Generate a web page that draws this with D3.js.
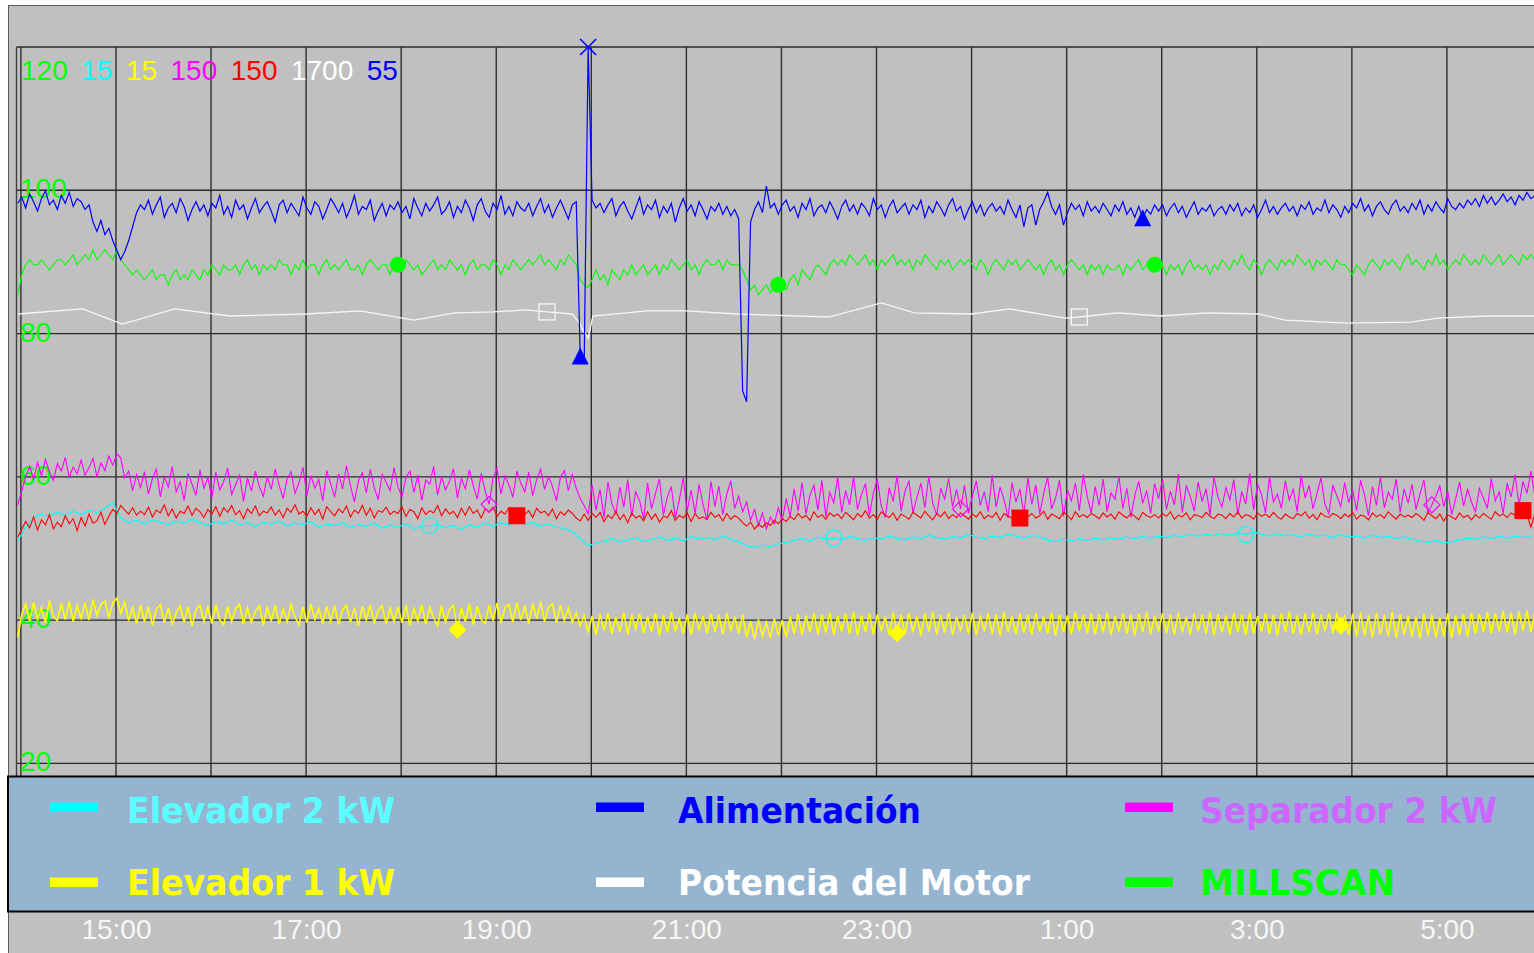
<!DOCTYPE html>
<html><head><meta charset="utf-8">
<script src="https://cdn.jsdelivr.net/npm/d3@7"></script>
<style>
html,body{margin:0;padding:0;background:#fff;overflow:hidden;}
svg{display:block;}
</style></head><body>
<svg id="chart" width="1534" height="953"></svg>
<script>
// ---------------- DATA ----------------
const sampleStart = "13:58";
const fineStepMin = 2.5;    // Alimentación, MILLSCAN, Separador, serie roja, Elevador 1
const coarseStepMin = 5;    // Elevador 2

const seriesNames = ["MILLSCAN", "Elevador 2 kW", "Elevador 1 kW", "Separador 2 kW", "Serie 5", "Potencia del Motor", "Alimentación"];
const seriesMax   = [120, 15, 15, 150, 150, 1700, 55];
const yTickLabels = [100, 80, 60, 40, 20];
const xTickLabels = ["15:00", "17:00", "19:00", "21:00", "23:00", "1:00", "3:00", "5:00"];

const alimentacion = [
45.0,45.4,44.7,45.6,45.1,44.5,45.3,45.8,44.9,45.2,44.6,45.5,45.0,45.7,44.8,45.3,
45.1,44.6,44.9,43.8,43.2,43.9,43.0,43.4,42.6,42.0,41.4,41.9,42.6,43.5,44.4,44.9,
44.6,45.2,44.3,44.9,45.4,44.1,44.7,45.0,44.4,45.3,44.8,43.9,44.6,45.1,44.5,44.9,
44.2,45.0,44.7,45.5,44.3,44.8,44.1,45.2,44.6,44.9,44.0,44.7,45.3,44.4,44.8,45.1,
44.5,43.8,44.9,45.2,44.4,45.0,44.6,44.2,45.4,44.7,44.3,45.1,44.8,44.0,44.6,45.3,
44.9,44.4,45.0,44.1,44.7,45.5,44.3,44.8,44.6,45.2,43.9,44.5,45.0,44.2,44.9,44.6,
45.1,44.4,44.8,44.0,45.3,44.7,44.2,45.0,44.5,44.9,45.4,44.3,44.6,45.1,44.1,44.8,
44.4,45.2,44.7,43.9,44.9,45.3,44.5,44.1,45.0,44.6,45.5,44.3,44.8,44.2,45.1,44.7,
44.5,45.0,44.2,44.8,45.3,44.4,44.9,44.1,44.7,45.2,44.6,44.0,44.9,45.1,35.2,34.8,
55.0,45.2,44.7,45.0,44.4,44.9,45.3,44.2,44.8,45.1,44.5,44.0,44.7,45.4,44.3,44.9,
44.6,45.2,44.1,44.8,44.4,45.0,43.8,44.7,45.3,44.5,44.9,44.2,45.1,44.6,44.0,44.8,
44.5,45.0,44.3,44.8,44.2,44.6,44.0,33.0,32.3,43.8,44.6,45.1,44.4,46.1,44.7,45.0,
44.3,44.9,45.2,44.5,44.8,44.1,45.0,44.6,45.3,44.2,44.7,44.9,44.4,45.1,44.6,44.0,
44.8,45.2,44.5,44.9,44.3,45.0,44.7,44.2,45.3,44.6,44.9,44.1,44.8,45.2,44.4,44.7,
45.0,44.3,44.9,44.6,45.2,44.1,44.8,44.4,45.1,44.7,44.2,44.9,45.3,44.5,44.8,44.0,
44.6,45.1,44.4,44.9,44.2,44.7,45.0,44.5,44.8,44.3,45.2,44.6,44.1,44.9,43.5,44.7,
44.9,43.6,44.6,45.1,45.7,44.8,44.3,44.9,43.6,44.4,45.0,44.6,44.9,44.2,45.1,44.5,
44.8,44.4,45.0,44.6,44.2,44.9,44.5,45.1,44.3,44.7,44.1,44.8,44.05,44.6,44.3,44.9,
44.5,44.9,44.2,44.7,45.0,44.4,44.8,44.1,44.6,45.1,44.3,44.7,44.5,44.9,44.2,44.6,
44.8,44.3,44.9,44.5,45.0,44.2,44.7,44.4,44.9,44.1,44.6,45.2,44.4,44.8,44.3,44.7,
45.0,44.5,44.8,44.2,44.9,44.6,45.1,44.3,44.7,44.5,45.2,44.4,44.9,44.6,44.1,44.8,
44.4,45.0,44.7,45.3,44.5,44.9,44.2,44.8,45.1,44.6,44.3,44.9,45.2,44.5,44.8,44.4,
45.0,44.6,45.2,44.3,44.9,44.5,45.1,44.7,44.4,45.3,44.8,44.6,45.0,44.7,45.2,44.9,
45.3,44.8,45.5,45.0,45.4,44.9,45.2,45.6,45.1,45.4,44.9,45.5,45.2,45.7,45.3,45.5
];

const millscan = [
85.4,88.2,89.6,90.3,89.6,89.6,90.3,89.6,88.9,89.6,90.3,90.3,89.6,90.3,91.0,89.6,
90.3,91.0,90.3,91.7,90.3,91.0,91.7,91.0,90.3,91.7,90.3,89.6,88.9,88.2,88.9,88.2,
87.5,88.2,88.9,87.5,88.2,88.2,86.8,88.2,88.9,87.5,88.2,87.5,88.9,88.2,87.5,88.9,
88.2,89.6,88.9,88.2,89.6,88.9,88.9,89.6,88.2,89.6,90.3,88.9,89.6,88.2,89.6,88.9,
89.6,88.9,90.3,89.6,89.6,88.2,89.6,88.9,90.3,88.9,89.6,89.6,88.2,89.6,90.3,88.9,
89.6,88.9,89.6,90.3,88.9,88.9,89.6,88.2,89.6,90.3,89.6,88.9,89.6,89.6,88.2,89.6,
89.6,88.9,90.3,89.6,88.9,89.6,88.2,88.9,89.6,90.3,88.9,89.6,88.9,90.3,89.6,88.9,
89.6,88.2,89.6,90.3,88.9,89.6,89.6,88.9,90.3,89.6,88.2,89.6,88.9,90.3,89.6,88.9,
89.6,90.3,89.6,90.3,91.0,89.6,90.3,89.6,88.9,90.3,89.6,91.0,90.3,89.6,87.5,86.8,
86.4,87.5,88.9,87.5,88.2,86.8,88.9,88.2,87.5,88.9,88.2,89.6,88.2,88.9,89.6,88.2,
88.9,89.6,88.2,89.6,88.9,90.3,89.6,88.9,89.6,90.3,88.9,89.6,88.2,89.6,90.3,89.6,
89.6,90.3,88.9,90.3,89.6,89.6,89.6,88.9,87.5,86.1,86.8,85.4,86.1,86.8,85.7,86.4,
86.8,87.5,86.1,87.5,88.2,86.8,88.9,88.2,87.5,88.9,89.6,88.9,88.2,89.6,90.3,89.6,
90.3,89.6,91.0,90.3,89.6,90.3,91.0,89.6,90.3,88.9,90.3,89.6,90.3,91.0,89.6,90.3,
89.6,90.3,88.9,90.3,89.6,91.0,90.3,89.6,88.9,90.3,89.6,90.3,88.9,89.6,90.3,89.6,
90.3,89.6,88.9,90.3,89.6,88.2,89.6,90.3,89.6,88.9,90.3,89.6,90.3,88.9,89.6,90.3,
89.6,88.9,89.6,88.2,89.6,90.3,88.9,89.6,88.2,89.6,90.3,89.6,88.9,89.6,88.2,89.6,
88.9,89.6,88.2,89.6,88.9,88.9,89.6,88.2,89.6,88.9,89.6,90.3,88.9,89.6,90.3,89.6,
88.9,89.6,88.2,89.6,88.9,89.6,88.2,89.6,90.3,88.9,89.6,88.9,89.6,88.2,89.6,88.9,
90.3,89.6,88.9,90.3,89.6,91.0,89.6,88.9,90.3,89.6,88.2,89.6,90.3,89.6,88.9,90.3,
89.6,90.3,89.6,91.0,90.3,89.6,90.3,88.9,90.3,89.6,90.3,89.6,88.9,90.3,89.6,89.6,
88.9,88.2,89.6,88.9,88.2,89.6,90.3,89.6,88.9,90.3,89.6,90.3,89.6,88.9,90.3,91.0,
89.6,90.3,89.6,88.9,90.3,89.6,91.0,89.6,90.3,88.9,89.6,90.3,89.6,91.0,90.3,89.6,
90.3,89.6,91.0,90.3,89.6,90.3,91.0,89.6,90.3,91.0,90.3,89.6,91.0,90.3,91.0,90.3
];

const separador2 = [
70.1,72.5,75.0,76.8,74.6,77.5,75.2,78.1,75.9,74.4,77.3,76.0,78.4,74.9,76.7,75.5,
77.9,75.3,76.6,78.2,75.0,77.4,76.1,78.6,77.0,79.0,78.3,74.8,76.0,72.6,75.4,73.1,
75.9,72.0,74.7,76.3,71.5,75.0,73.2,76.8,72.4,74.1,70.9,75.6,73.7,71.8,76.2,73.0,
74.9,71.3,75.8,72.7,74.2,76.5,71.9,73.6,75.3,70.7,74.8,72.5,76.0,73.3,71.6,75.1,
72.8,76.4,73.5,71.2,74.6,75.9,72.1,74.0,76.7,71.7,75.2,73.0,74.5,70.8,76.1,73.8,
71.4,75.5,72.9,76.9,73.4,70.6,74.3,75.7,72.2,76.3,73.1,71.0,75.4,74.1,72.6,76.6,
73.2,71.5,74.9,76.0,72.3,75.3,70.9,74.4,73.7,76.8,71.8,75.0,72.7,74.2,76.4,71.3,
74.7,72.9,76.2,73.4,71.1,75.6,72.5,70.2,74.8,76.5,72.0,75.1,73.6,71.4,76.0,73.9,
72.4,75.8,71.7,74.5,76.3,72.8,75.0,73.3,70.8,74.9,76.1,72.6,75.4,73.0,71.2,70.0,
68.5,73.6,69.2,72.8,67.9,74.1,70.3,68.6,73.2,69.7,74.5,68.1,72.4,70.8,67.6,73.9,
69.4,72.1,74.6,68.3,71.5,73.3,67.8,70.9,74.8,69.0,72.7,68.6,73.7,70.2,67.5,74.2,
69.8,73.4,68.4,72.0,74.3,69.5,71.6,68.9,70.6,67.4,69.3,66.5,68.7,65.9,68.0,66.8,
69.6,67.3,71.2,68.1,72.9,69.0,74.0,68.5,71.8,73.5,69.2,74.4,68.0,72.3,70.5,74.9,
68.8,72.6,70.1,75.0,69.3,71.9,73.8,68.2,72.2,74.6,69.9,67.9,73.1,70.7,75.2,69.0,
72.5,74.2,68.7,71.4,73.9,69.6,75.1,70.4,68.3,73.0,71.1,74.7,69.8,72.8,69.4,73.5,
68.6,71.7,74.3,70.0,72.4,68.9,75.3,69.7,73.2,71.0,67.8,74.0,70.6,72.9,68.4,74.8,
70.2,73.6,68.5,72.1,75.0,69.4,71.3,74.4,68.1,72.7,70.8,73.9,69.1,75.4,71.5,68.7,
73.3,70.0,74.6,68.9,72.2,71.1,75.1,69.5,73.0,67.9,71.8,74.2,70.4,72.6,68.6,73.8,
71.2,74.7,69.3,72.5,70.1,75.5,68.8,73.4,71.6,69.0,74.1,70.7,72.9,68.3,75.0,71.4,
69.7,73.1,71.0,74.5,68.4,72.4,70.3,75.6,69.2,73.7,71.9,68.7,74.9,70.6,72.0,69.5,
74.3,70.9,72.8,68.9,75.2,71.3,73.5,69.4,72.1,74.8,70.2,68.6,73.6,71.7,69.8,74.0,
70.5,72.7,69.1,74.4,71.8,68.2,73.3,70.0,75.0,69.6,72.3,71.1,74.6,68.8,72.9,70.4,
73.7,69.3,72.0,74.5,68.7,70.1,71.6,73.4,69.8,72.5,68.4,71.2,74.1,69.9,72.8,70.6,
68.9,73.0,71.3,69.5,74.7,70.8,72.4,68.6,73.9,71.5,75.4,70.0,74.2,72.1,76.0,71.6
];

const serieRoja = [
64.5,65.8,67.2,66.1,68.0,65.7,67.5,66.6,68.4,65.9,67.1,66.3,68.2,66.8,67.7,65.6,
67.9,66.4,68.5,66.9,67.3,68.8,66.7,68.1,69.3,68.6,70.0,69.2,68.5,69.6,68.3,69.0,
68.4,69.7,68.0,69.2,68.7,70.1,68.2,69.4,67.8,69.0,68.6,69.9,68.3,69.5,68.9,67.9,
69.3,68.5,69.8,68.1,69.6,68.8,70.0,68.4,69.1,67.7,69.4,68.6,69.9,68.2,69.0,68.7,
69.7,68.3,69.2,67.9,69.5,68.8,70.1,68.5,69.0,68.1,69.6,68.4,69.3,67.6,69.8,68.9,
68.2,69.4,68.7,69.9,68.0,69.2,68.6,70.0,68.3,69.5,67.8,69.1,68.8,69.7,68.4,69.0,
68.6,69.8,68.1,69.3,68.9,67.7,69.6,68.4,69.1,68.7,70.0,68.2,69.4,68.5,69.0,67.9,
69.5,68.3,69.8,68.6,69.2,67.8,69.4,68.9,69.7,68.1,69.0,68.5,69.6,68.0,68.2,69.3,
68.4,69.1,67.9,69.5,68.7,69.0,68.2,69.4,67.7,68.9,68.3,69.2,68.6,67.8,67.3,68.5,
67.4,68.6,67.9,68.8,67.2,68.3,67.7,69.0,67.5,68.4,67.0,68.7,67.8,68.2,67.3,68.9,
67.6,68.5,67.1,68.1,67.9,69.1,67.4,68.3,67.8,68.7,67.2,68.6,67.7,68.0,67.5,68.8,
67.9,68.4,67.3,68.6,67.6,68.2,67.8,67.0,66.4,67.1,65.9,66.7,66.2,67.0,66.5,67.4,
66.8,67.7,67.2,68.1,67.5,68.6,67.8,68.3,67.4,68.9,67.9,68.4,67.6,68.7,68.1,68.5,
67.7,68.8,68.2,67.5,68.6,68.0,69.1,67.8,68.4,67.6,68.9,68.3,67.9,68.7,67.4,68.5,
68.1,67.6,68.8,68.3,67.8,69.0,68.2,67.5,68.6,68.0,68.9,67.7,68.4,67.9,68.7,68.2,
67.6,68.5,68.0,68.9,67.7,68.3,67.9,68.8,67.4,68.6,68.1,67.8,68.7,67.8,68.4,68.0,
68.6,67.8,68.2,69.0,67.6,68.5,68.1,67.7,68.8,68.3,67.5,68.9,68.0,68.4,67.9,68.6,
68.2,67.7,68.7,68.0,68.5,67.6,68.9,68.3,67.8,68.6,68.1,67.5,68.8,68.2,67.9,68.4,
67.8,68.6,68.1,68.9,67.6,68.3,68.0,68.7,67.5,68.4,68.2,67.9,68.8,68.1,67.7,68.5,
68.3,67.7,68.6,68.0,68.9,67.8,68.4,68.2,67.6,68.7,68.1,68.5,67.9,68.8,68.0,67.6,
68.5,68.0,67.7,68.6,68.2,68.9,67.8,68.4,67.5,68.7,68.1,67.9,68.6,68.3,67.7,68.5,
68.0,68.8,67.6,68.3,68.1,67.5,68.7,68.0,68.4,67.8,68.9,68.2,67.6,68.5,68.0,68.3,
67.9,68.6,68.1,67.4,68.8,68.2,67.7,68.5,67.3,68.4,68.0,67.6,68.7,67.9,68.3,67.5,
68.4,67.8,68.6,68.1,67.6,68.9,68.2,68.5,67.9,68.7,68.3,67.7,69.1,68.4,66.2,68.6
];

const elevador1 = [
4.70,5.10,5.28,4.98,5.31,5.02,5.22,4.95,5.34,5.06,4.99,5.29,5.01,5.33,4.97,5.25,
5.03,5.30,5.00,5.36,5.08,5.27,5.33,5.05,5.30,5.38,5.12,5.31,4.99,5.22,4.94,5.26,
4.97,5.24,4.91,5.19,5.27,4.95,5.21,4.93,5.12,5.25,4.96,5.23,4.90,5.18,5.26,4.98,
5.22,4.94,5.27,5.00,4.92,5.24,4.97,5.20,5.28,4.93,5.21,4.96,5.15,5.25,4.91,5.22,
4.99,5.26,4.93,5.19,4.97,5.27,5.05,4.92,5.23,4.95,5.28,5.01,5.20,4.94,5.24,4.98,
5.25,4.92,5.18,5.26,4.96,5.22,4.90,5.24,5.00,5.27,4.94,5.17,5.25,4.93,5.21,4.97,
5.23,4.95,5.26,4.91,5.20,4.98,5.27,4.93,5.22,5.04,4.90,5.25,4.96,5.19,5.26,4.83,
5.21,4.97,5.28,4.92,5.24,5.01,4.94,5.26,4.99,5.30,4.95,5.22,5.27,4.96,5.31,5.00,
5.25,4.94,5.29,5.02,5.32,4.97,5.23,5.28,4.95,5.26,4.99,5.21,4.96,5.13,4.90,5.08,
4.78,5.07,4.74,5.10,4.82,5.12,4.76,5.05,4.79,5.13,4.75,5.09,4.84,5.11,4.77,5.06,
4.80,5.12,4.73,5.08,4.78,5.14,4.81,5.03,4.76,5.10,4.74,5.13,4.82,5.07,4.77,5.11,
4.79,5.09,4.75,5.12,4.81,5.06,4.77,5.10,4.70,4.98,4.67,5.01,4.72,4.96,4.69,5.03,
4.73,5.00,4.70,5.06,4.76,5.10,4.74,5.08,4.79,5.12,4.75,5.09,4.78,5.13,4.74,5.07,
4.80,5.11,4.76,5.14,4.73,5.08,4.79,5.12,4.75,5.10,4.81,5.06,4.74,5.13,4.77,5.09,
4.76,5.12,4.79,5.07,4.73,5.11,4.80,5.14,4.75,5.09,4.78,5.13,4.74,5.06,4.81,5.10,
4.77,5.13,4.74,5.08,4.80,5.12,4.76,5.10,4.73,5.14,4.79,5.07,4.75,5.11,4.78,5.09,
4.74,5.12,4.80,5.06,4.76,5.13,4.73,5.10,4.79,5.08,4.75,5.14,4.81,5.09,4.77,5.11,
4.75,5.10,4.78,5.13,4.74,5.07,4.80,5.12,4.76,5.09,4.73,5.11,4.79,5.14,4.75,5.08,
4.80,5.12,4.77,5.10,4.74,5.13,4.78,5.06,4.75,5.11,4.81,5.09,4.76,5.14,4.73,5.10,
4.78,5.08,4.75,5.12,4.79,5.10,4.74,5.13,4.77,5.07,4.80,5.11,4.76,5.09,4.73,5.12,
4.79,5.14,4.76,5.08,4.74,5.11,4.78,5.13,4.75,5.09,4.81,5.12,4.77,5.10,4.90,5.07,
4.74,5.11,4.71,5.13,4.73,5.08,4.70,5.12,4.75,5.09,4.72,5.14,4.69,5.10,4.74,5.07,
4.71,5.06,4.68,5.11,4.73,5.09,4.70,5.04,4.72,5.12,4.69,5.08,4.74,5.10,4.71,5.13,
4.76,5.11,4.79,5.14,4.77,5.12,4.80,5.16,4.78,5.13,4.75,5.15,4.81,5.17,4.79,5.14
];

const elevador2 = [
6.38,
6.62,6.78,6.85,6.80,6.88,6.83,6.90,6.84,6.92,6.87,6.95,7.05,
6.78,6.70,6.74,6.68,6.75,6.71,6.66,6.73,6.69,6.76,
6.70,6.65,6.72,6.68,6.74,6.66,6.70,6.63,6.71,6.67,
6.73,6.64,6.69,6.66,6.72,6.62,6.68,6.65,6.70,6.61,
6.67,6.63,6.69,6.60,6.66,6.62,6.68,6.59,
6.64,6.65,6.67,6.61,6.65,6.58,6.66,6.62,6.69,6.64,6.70,6.65,6.72,6.67,6.70,6.64,6.68,6.62,6.60,6.55,
6.42,6.30,
6.34,6.38,6.42,6.36,6.40,6.44,6.37,6.41,6.45,6.39,6.43,6.38,6.46,6.41,6.44,6.40,6.47,6.42,
6.36,6.30,6.27,6.31,6.28,6.33,
6.35,6.39,6.42,6.38,6.45,6.41,6.43,6.40,6.46,6.42,
6.39,6.44,6.41,6.47,6.43,6.40,6.45,6.42,6.48,6.44,
6.41,6.46,6.43,6.49,6.45,6.42,6.47,6.44,6.50,6.46,
6.43,6.48,6.45,6.40,6.37,6.41,6.38,6.42,6.39,6.43,
6.40,6.44,6.41,6.45,6.42,6.46,6.43,6.47,6.44,6.48,
6.45,6.49,6.46,6.50,6.47,6.51,6.48,6.52,6.49,6.53,
6.50,6.46,6.51,6.47,6.49,6.45,6.50,6.46,6.48,6.44,
6.49,6.45,6.47,6.43,6.48,6.44,6.46,6.42,6.45,6.41,
6.38,6.35,6.39,6.34,6.37,6.40,6.43,6.41,6.45,6.42,
6.46,6.43,6.47,6.44,6.46
];

const potenciaTimes = ["13:58","14:39","15:04","15:37","16:12","17:00","17:34","18:08","18:34","18:58","19:19","19:32","19:48","19:52","19:58","20:01","20:35","21:00","21:32","22:30","23:03","23:24","00:00","00:24","00:59","01:08","01:32","01:59","02:29","03:01","03:18","03:57","04:37","04:54","05:25","05:55"];
const potenciaValues = [1172,1182,1152,1182,1168,1172,1178,1160,1174,1176,1180,1176,1172,1156,1124,1168,1178,1178,1172,1166,1194,1174,1172,1182,1164,1166,1174,1168,1174,1172,1160,1154,1156,1164,1168,1168];

// marker positions (sample indices / times)
const millscanMarks = [96, 192, 287];
const alimentacionTriMarks = [142, 284];
const alimentacionPeakMarks = [144];
const separadorMarks = [119, 238, 357];
const rojaMarks = [126, 253, 380];
const elevador2Marks = [52, 103, 155];
const elevador1Marks = [111, 222, 334];
const potenciaMarkTimes = ["19:32", "01:08"];

// ---------------- DRAWING ----------------
const svg = d3.select("#chart");
const parseHM = s => { const [h, m] = s.split(":").map(Number); return new Date(2020, 0, h < 12 ? 2 : 1, h, m); };
const t0 = parseHM(sampleStart);
const timesFor = (arr, step) => arr.map((_, i) => new Date(t0.getTime() + i * step * 60000));
const fineTimes = timesFor(alimentacion, fineStepMin);
const coarseTimes = timesFor(elevador2, coarseStepMin);

const plotTop = 47, plotBottom = 906.6, plotLeft = 16.5, plotRight = 1534;
const x = d3.scaleTime().domain([parseHM("14:00"), parseHM("06:00")]).range([20.9, 1542.0]);
const yFor = max => d3.scaleLinear().domain([0, max]).range([plotBottom, plotTop]);
const yMill = yFor(seriesMax[0]), yEl2 = yFor(seriesMax[1]), yEl1 = yFor(seriesMax[2]),
      ySep = yFor(seriesMax[3]), yRoja = yFor(seriesMax[4]), yPot = yFor(seriesMax[5]), yAli = yFor(seriesMax[6]);

const col = {mill: "#00ff00", el2: "#00ffff", el1: "#ffff00", sep: "#ff00ff", roja: "#ff0000", pot: "#ffffff", ali: "#0000ff"};
const headerColors = [col.mill, col.el2, col.el1, col.sep, col.roja, col.pot, col.ali];

// background frame
svg.append("rect").attr("x", 8.5).attr("y", 5.5).attr("width", 1540).attr("height", 960)
  .attr("fill", "#c0c0c0").attr("stroke", "#5a5a5a").attr("stroke-width", 1);

// grid
const g = svg.append("g");
const hVals = [seriesMax[0]].concat(yTickLabels);
g.selectAll("line.h").data(hVals).join("line").attr("class", "h")
  .attr("x1", plotLeft).attr("x2", plotRight).attr("y1", d => yMill(d)).attr("y2", d => yMill(d))
  .attr("stroke", "#2a2a2a").attr("stroke-width", 1.3);
const hours = d3.timeHour.range(parseHM("14:00"), parseHM("06:00"));
g.selectAll("line.v").data(hours).join("line").attr("class", "v")
  .attr("x1", d => x(d)).attr("x2", d => x(d)).attr("y1", plotTop).attr("y2", plotBottom)
  .attr("stroke", "#2f2f2f").attr("stroke-width", 1.4);
g.append("line").attr("x1", plotLeft).attr("x2", plotLeft).attr("y1", plotTop).attr("y2", plotBottom)
  .attr("stroke", "#404040").attr("stroke-width", 1.4);

// y labels (green MILLSCAN scale)
const font = "'Liberation Sans', Arial, sans-serif";
g.selectAll("text.yl").data(yTickLabels).join("text").attr("class", "yl")
  .attr("x", 20).attr("y", d => yMill(d) + 8).text(d => d)
  .attr("fill", col.mill).attr("font-family", font).attr("font-size", 28);

// header maxima
let hx = 21;
seriesMax.forEach((m, i) => {
  const t = g.append("text").attr("x", hx).attr("y", 80).text(m)
    .attr("fill", headerColors[i]).attr("font-family", font).attr("font-size", 28);
  hx += t.node().getComputedTextLength() + 13.5;
});

// clip
svg.append("clipPath").attr("id", "clip").append("rect")
  .attr("x", plotLeft).attr("y", 0).attr("width", plotRight - plotLeft).attr("height", plotBottom);
const lines = svg.append("g").attr("clip-path", "url(#clip)");

function drawSeries(data, times, y, color, width) {
  const ln = d3.line().x((d, i) => x(times[i])).y(d => y(d));
  lines.append("path").datum(data).attr("d", ln).attr("fill", "none")
    .attr("stroke", color).attr("stroke-width", width).attr("stroke-linejoin", "miter");
}
drawSeries(elevador1, fineTimes, yEl1, col.el1, 1.6);
drawSeries(elevador2, coarseTimes, yEl2, col.el2, 1.2);
drawSeries(separador2, fineTimes, ySep, col.sep, 1.1);
drawSeries(serieRoja, fineTimes, yRoja, col.roja, 1.1);
const potLine = d3.line().x(d => x(parseHM(d[0]))).y(d => yPot(d[1]));
lines.append("path").datum(potenciaTimes.map((t, i) => [t, potenciaValues[i]])).attr("d", potLine)
  .attr("fill", "none").attr("stroke", "#f6f6f6").attr("stroke-width", 1.3);
drawSeries(millscan, fineTimes, yMill, col.mill, 1.1);
drawSeries(alimentacion, fineTimes, yAli, col.ali, 1.2);

// markers
const mk = svg.append("g");
millscanMarks.forEach(i => mk.append("circle").attr("cx", x(fineTimes[i])).attr("cy", yMill(millscan[i])).attr("r", 8).attr("fill", col.mill));
alimentacionTriMarks.forEach(i => mk.append("path").attr("transform", `translate(${x(fineTimes[i])},${yAli(alimentacion[i])})`)
  .attr("d", "M0,-9L8.5,8L-8.5,8Z").attr("fill", col.ali));
alimentacionPeakMarks.forEach(i => mk.append("path").attr("transform", `translate(${x(fineTimes[i])},${yAli(alimentacion[i])})`)
  .attr("d", "M-8,-8L8,8M-8,8L8,-8").attr("stroke", col.ali).attr("stroke-width", 1.6).attr("fill", "none"));
separadorMarks.forEach(i => mk.append("path").attr("transform", `translate(${x(fineTimes[i])},${ySep(separador2[i])})`)
  .attr("d", "M0,-8L8,0L0,8L-8,0Z").attr("stroke", col.sep).attr("stroke-width", 1.2).attr("fill", "none"));
rojaMarks.forEach(i => mk.append("rect").attr("x", x(fineTimes[i]) - 8.5).attr("y", yRoja(serieRoja[i]) - 8.5)
  .attr("width", 17).attr("height", 17).attr("fill", col.roja));
elevador2Marks.forEach(i => mk.append("circle").attr("cx", x(coarseTimes[i])).attr("cy", yEl2(elevador2[i])).attr("r", 8)
  .attr("fill", "none").attr("stroke", col.el2).attr("stroke-width", 1.2));
elevador1Marks.forEach(i => mk.append("path").attr("transform", `translate(${x(fineTimes[i])},${yEl1(elevador1[i])})`)
  .attr("d", "M0,-9L9,0L0,9L-9,0Z").attr("fill", col.el1));
potenciaMarkTimes.forEach(t => {
  const i = potenciaTimes.indexOf(t);
  mk.append("rect").attr("x", x(parseHM(t)) - 8).attr("y", yPot(potenciaValues[i]) - 8)
    .attr("width", 16).attr("height", 16).attr("fill", "none").attr("stroke", "#f6f6f6").attr("stroke-width", 1.3);
});

// legend
svg.append("rect").attr("x", 8).attr("y", 776.5).attr("width", 1540).attr("height", 135)
  .attr("fill", "#94b4d0").attr("stroke", "#000").attr("stroke-width", 2);
const legendItems = [
  {name: seriesNames[1], sw: col.el2, tc: "#5cffff", col: 0, row: 0, w: 268},
  {name: seriesNames[6], sw: col.ali, tc: "#0000ff", col: 1, row: 0, w: 243},
  {name: seriesNames[3], sw: col.sep, tc: "#cc66ff", col: 2, row: 0, w: 297},
  {name: seriesNames[2], sw: col.el1, tc: "#ffff00", col: 0, row: 1, w: 268},
  {name: seriesNames[5], sw: "#ffffff", tc: "#ffffff", col: 1, row: 1, w: 352},
  {name: seriesNames[0], sw: col.mill, tc: "#00ff00", col: 2, row: 1, w: 195}
];
const swX = [50, 596, 1125], txX = [127, 678, 1200], swY = [802.5, 877.5], txY = [823, 895];
const lg = svg.append("g");
legendItems.forEach(d => {
  lg.append("rect").attr("x", swX[d.col]).attr("y", swY[d.row]).attr("width", 48).attr("height", 9.5).attr("fill", d.sw);
  lg.append("text").attr("x", txX[d.col]).attr("y", txY[d.row]).text(d.name)
    .attr("fill", d.tc).attr("font-family", "'DejaVu Sans', Verdana, sans-serif").attr("font-weight", "bold")
    .attr("font-size", 35).attr("textLength", d.w).attr("lengthAdjust", "spacingAndGlyphs");
});

// x axis labels
const xAxis = d3.axisBottom(x).tickValues(xTickLabels.map(parseHM)).tickFormat((d, i) => xTickLabels[i]).tickSize(0).tickPadding(3);
const ax = svg.append("g").attr("transform", "translate(0,916)").call(xAxis);
ax.select(".domain").remove();
ax.selectAll("text").attr("fill", "#f6f6f6").attr("font-family", font).attr("font-size", 28);
</script>
</body></html>
